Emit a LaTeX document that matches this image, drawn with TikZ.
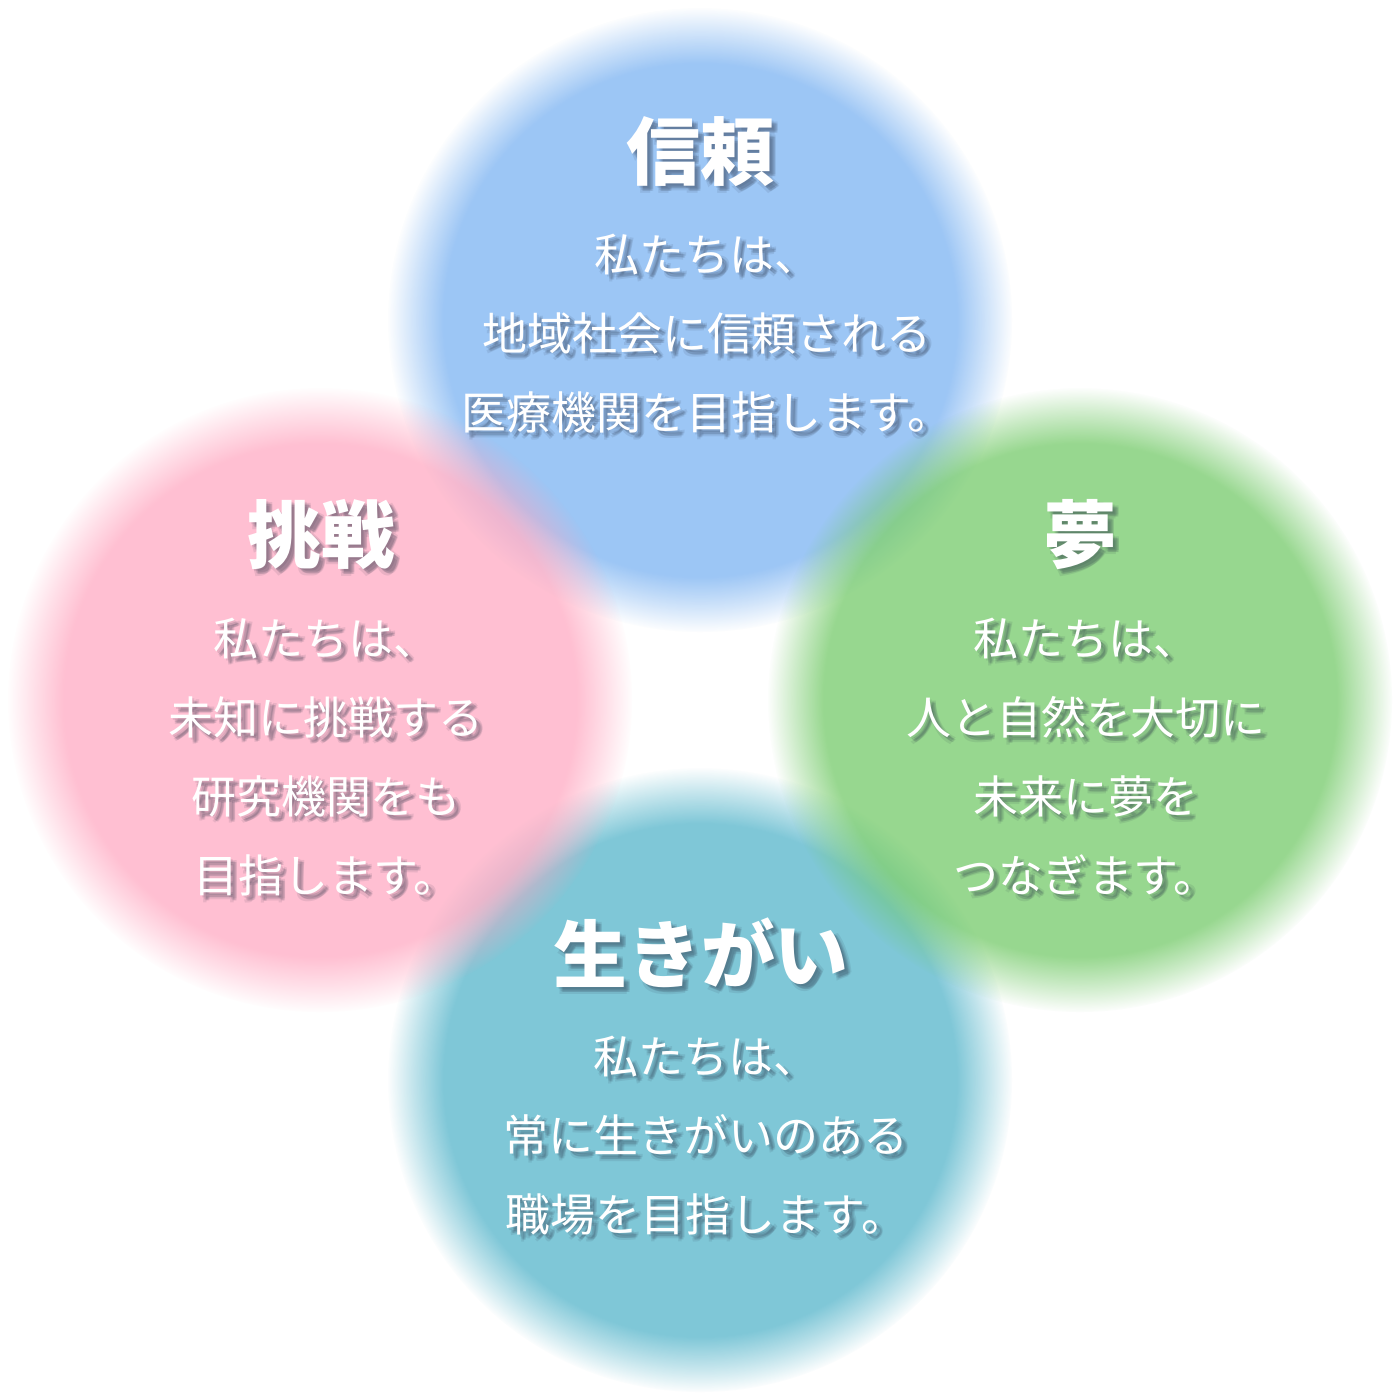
\documentclass[tikz,border=0pt]{standalone}
\usepackage{fontspec}
\newfontfamily\jpfont{Noto Sans CJK JP}
\usetikzlibrary{fadings,calc}

\definecolor{trustblue}{RGB}{115,174,241}
\definecolor{dreamgreen}{RGB}{108,199,96}
\definecolor{lifeteal}{RGB}{74,176,199}
\definecolor{challpink}{RGB}{255,165,191}
\definecolor{shadowgray}{RGB}{40,50,70}

% soft edge for the blobs
\pgfdeclareradialshading{blobshade}{\pgfpointorigin}{color(0bp)=(white); color(20.5bp)=(white); color(22.8bp)=(gray); color(25bp)=(black); color(50bp)=(black)}
\pgfdeclarefading{blobfade}{\pgfuseshading{blobshade}}

\tikzset{
  blob/.style={fill=#1, fill opacity=0.7, path fading=blobfade},
  headtext/.style={font=\jpfont\bfseries\fontsize{21}{25}\selectfont, inner sep=0pt},
  bodytext/.style={font=\jpfont\fontsize{12.8}{22.5}\selectfont, align=center, inner sep=0pt},
}

% white text with a soft drop shadow
\newcommand{\shadowtext}[4]{%
  \foreach \dx/\dy in {0.02/-0.02,0.04/-0.04,0.06/-0.05,0.035/-0.065,0.065/-0.03,0.05/-0.05}
    \node[#3, text=shadowgray, text opacity=0.1] at ($(#2)+(\dx,\dy)$) {#4};
  \node[#3, text=white] (#1) at (#2) {#4};
}

\begin{document}
\begin{tikzpicture}
  \useasboundingbox[fill=white] (0,0) rectangle (14,-14);

  % the four blobs
  \fill[blob=trustblue] (7,-3.2) circle (3.12);
  \fill[blob=lifeteal] (7,-10.8) circle (3.12);
  \fill[blob=challpink] (3.2,-7) circle (3.12);
  \fill[blob=dreamgreen] (10.8,-7) circle (3.12);

  % texts
  \shadowtext{trusthead}{7,-1.52}{headtext}{信頼}
  \shadowtext{trustbody}{7.07,-3.34}{bodytext}{私たちは、\\地域社会に信頼される\\医療機関を目指します。}

  \shadowtext{challhead}{3.21,-5.35}{headtext}{挑戦}
  \shadowtext{challbody}{3.26,-7.57}{bodytext}{私たちは、\\未知に挑戦する\\研究機関をも\\目指します。}

  \shadowtext{dreamhead}{10.8,-5.35}{headtext}{夢}
  \shadowtext{dreambody}{10.86,-7.57}{bodytext}{私たちは、\\人と自然を大切に\\未来に夢を\\つなぎます。}

  \shadowtext{lifehead}{7.01,-9.53}{headtext}{生きがい}
  \shadowtext{lifebody}{7.06,-11.36}{bodytext}{私たちは、\\常に生きがいのある\\職場を目指します。}
\end{tikzpicture}
\end{document}
